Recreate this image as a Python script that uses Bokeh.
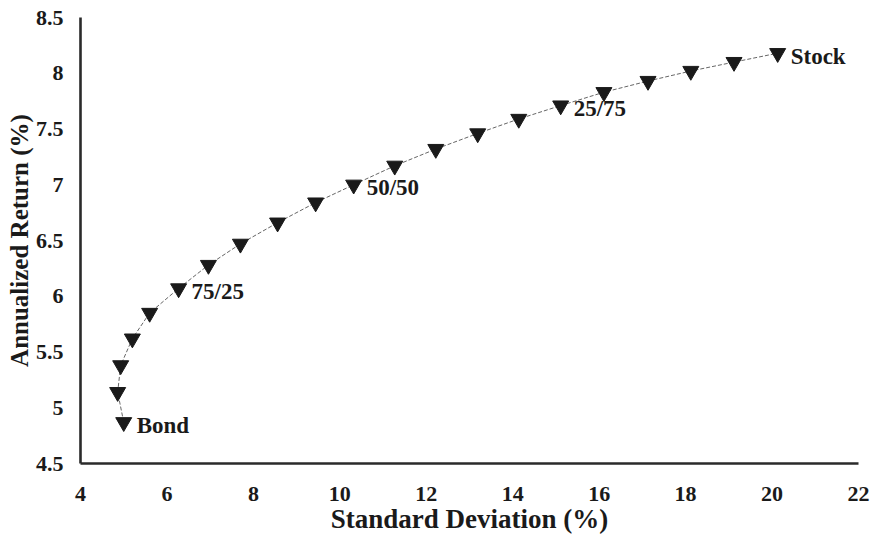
from bokeh.plotting import figure
from bokeh.models import ColumnDataSource, Range1d, FixedTicker
from bokeh.core.properties import value
from bokeh.embed import file_html
from bokeh.resources import INLINE

# Portfolio mixes from 100% bonds to 100% stocks in 5% steps
std_dev = [5.00, 4.86, 4.93, 5.20, 5.60, 6.27, 6.96, 7.70, 8.56, 9.44, 10.32,
           11.27, 12.22, 13.19, 14.14, 15.11, 16.11, 17.13, 18.12, 19.12, 20.13]
annual_return = [4.87, 5.14, 5.38, 5.62, 5.85, 6.07, 6.28, 6.47, 6.66, 6.84, 7.00,
                 7.17, 7.32, 7.46, 7.59, 7.71, 7.83, 7.93, 8.02, 8.10, 8.18]

# Named mixes and where they sit in the series
mix_names = ["Bond", "75/25", "50/50", "25/75", "Stock"]
mix_index = [0, 5, 10, 15, 20]

x_ticks = [4, 6, 8, 10, 12, 14, 16, 18, 20, 22]
y_ticks = [4.5, 5, 5.5, 6, 6.5, 7, 7.5, 8, 8.5]

FONT = "Liberation Serif"
INK = "#1a1a1a"

p = figure(width=878, height=542, output_backend="svg", toolbar_location=None,
           x_range=Range1d(4, 22), y_range=Range1d(4.5, 8.5),
           min_border_left=80, min_border_right=20,
           min_border_top=17, min_border_bottom=79)
p.outline_line_color = None
p.background_fill_color = "white"
p.border_fill_color = "white"
p.xgrid.visible = False
p.ygrid.visible = False

curve = ColumnDataSource(dict(x=std_dev, y=annual_return))
p.line("x", "y", source=curve, line_color="#666666", line_width=1.0,
       line_dash="4 2")
p.scatter("x", "y", source=curve, marker="inverted_triangle", size=16,
          fill_color=INK, line_color=INK)

labels = ColumnDataSource(dict(
    x=[std_dev[i] for i in mix_index],
    y=[annual_return[i] for i in mix_index],
    t=mix_names,
))
p.text("x", "y", text="t", source=labels, x_offset=13, y_offset=3,
       text_font=value(FONT), text_font_style="bold", text_font_size="23px",
       text_baseline="middle", text_align="left", text_color=INK)

for ax in (p.xaxis[0], p.yaxis[0]):
    ax.axis_line_width = 2.6
    ax.axis_line_color = "#2a2a2a"
    ax.major_tick_line_color = None
    ax.minor_tick_line_color = None
    ax.major_tick_in = 0
    ax.major_tick_out = 0
    ax.major_label_text_font = FONT
    ax.major_label_text_font_style = "bold"
    ax.major_label_text_font_size = "22px"
    ax.major_label_text_color = INK
    ax.axis_label_text_font = FONT
    ax.axis_label_text_font_style = "bold"
    ax.axis_label_text_color = INK

p.xaxis.axis_label_text_font_size = "27px"
p.yaxis.axis_label_text_font_size = "25px"
p.xaxis.ticker = FixedTicker(ticks=x_ticks)
p.yaxis.ticker = FixedTicker(ticks=y_ticks)
p.xaxis.major_label_overrides = {t: str(t) for t in x_ticks}
p.yaxis.major_label_overrides = {t: ("%g" % t) for t in y_ticks}
p.xaxis.axis_label = "Standard Deviation (%)"
p.yaxis.axis_label = "Annualized Return (%)"
p.xaxis.major_label_standoff = 23
p.yaxis.major_label_standoff = 17
p.xaxis.axis_label_standoff = 0
p.yaxis.axis_label_standoff = 0

open("out.html", "w").write(file_html(p, INLINE))
